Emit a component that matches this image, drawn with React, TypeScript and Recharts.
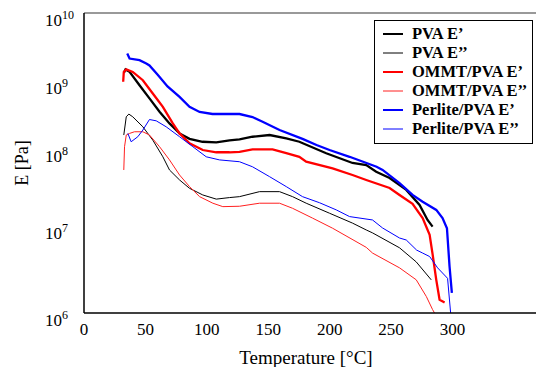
import React from 'react';
import { LineChart, Line, XAxis, YAxis, ReferenceLine } from 'recharts';

// Temperatures (°C) and moduli (Pa) for each series
const pvaE1T = [32.5, 33.8, 37.1, 45.2, 53.3, 61.5, 69.6, 77.8, 85.9, 96.5, 107.7, 118.5, 126.6, 137.2, 151.1, 164.7, 175.3, 197.2, 218.6, 229.8, 237.9, 248.8, 262.4, 273.2, 279.7, 283.8];
const pvaE1 = [1.6e9, 1.77e9, 1.64e9, 1.09e9, 7.26e8, 4.82e8, 3.37e8, 2.48e8, 2.1e8, 1.92e8, 1.88e8, 2.0e8, 2.07e8, 2.24e8, 2.36e8, 2.13e8, 1.92e8, 1.35e8, 1.0e8, 9.4e7, 7.66e7, 6.3e7, 4.38e7, 2.76e7, 1.74e7, 1.42e7];

const pvaE2T = [32.4, 34.4, 36.5, 39.7, 47.9, 56.0, 64.2, 69.6, 77.8, 85.9, 96.7, 107.7, 118.5, 126.6, 142.9, 159.2, 169.8, 180.9, 199.9, 218.6, 229.8, 234.9, 256.9, 270.5, 282.7];
const pvaE2 = [2.36e8, 4.13e8, 4.49e8, 4.13e8, 3.04e8, 2.02e8, 1.21e8, 8.07e7, 5.94e7, 4.6e7, 3.75e7, 3.3e7, 3.46e7, 3.56e7, 4.15e7, 4.15e7, 3.56e7, 2.91e7, 2.14e7, 1.58e7, 1.28e7, 1.17e7, 7.4e6, 4.8e6, 2.77e6];

const ommtE1T = [31.9, 32.4, 34.4, 39.7, 47.9, 56.0, 64.2, 72.3, 77.8, 85.9, 96.7, 107.7, 118.5, 126.6, 137.2, 153.5, 164.7, 175.3, 180.9, 202.4, 218.6, 229.8, 248.8, 256.9, 267.5, 275.7, 281.4, 283.8, 286.8, 289.5, 293.6];
const ommtE1 = [1.21e9, 1.64e9, 1.77e9, 1.64e9, 1.27e9, 8.46e8, 5.61e8, 3.37e8, 2.48e8, 1.83e8, 1.49e8, 1.39e8, 1.39e8, 1.41e8, 1.52e8, 1.52e8, 1.35e8, 1.21e8, 1.04e8, 8.5e7, 6.92e7, 5.94e7, 4.65e7, 3.75e7, 2.85e7, 1.84e7, 1.1e7, 6.1e6, 2.77e6, 1.5e6, 1.38e6];

const ommtE2T = [32.4, 33.0, 34.4, 37.1, 41.1, 47.9, 53.3, 61.5, 69.6, 77.8, 85.9, 94.1, 104.9, 113.0, 126.6, 142.9, 159.2, 169.8, 186.1, 202.4, 229.8, 234.9, 256.9, 270.5, 278.7, 283.8, 285.4];
const ommtE2 = [8.07e7, 1.65e8, 2.36e8, 2.48e8, 2.61e8, 2.61e8, 2.36e8, 1.65e8, 1.1e8, 6.92e7, 4.84e7, 3.56e7, 2.91e7, 2.62e7, 2.65e7, 2.91e7, 2.91e7, 2.49e7, 1.84e7, 1.35e7, 7.5e6, 6.3e6, 4.0e6, 2.77e6, 1.66e6, 1.11e6, 1.0e6];

const perlE1T = [35.2, 37.1, 45.2, 50.7, 53.3, 60.0, 68.0, 77.8, 85.9, 94.1, 104.6, 118.5, 126.6, 137.2, 145.4, 159.2, 177.9, 189.3, 199.9, 216.2, 238.2, 243.1, 256.9, 267.5, 275.7, 286.8, 291.9, 295.5, 297.6, 299.5];
const perlE1 = [2.88e9, 2.47e9, 2.35e9, 2.12e9, 2.0e9, 1.5e9, 1.05e9, 7.6e8, 5.6e8, 4.8e8, 4.5e8, 4.5e8, 4.5e8, 4.1e8, 3.55e8, 2.75e8, 2.1e8, 1.74e8, 1.49e8, 1.21e8, 8.9e7, 8.1e7, 5.4e7, 3.75e7, 3.05e7, 2.37e7, 1.84e7, 1.35e7, 4.2e6, 1.86e6];

const perlE2T = [35.7, 38.4, 43.8, 47.9, 53.3, 58.8, 66.9, 77.8, 88.6, 99.5, 110.3, 126.6, 137.2, 151.1, 164.7, 177.9, 191.8, 205.4, 216.2, 234.9, 243.1, 256.9, 262.4, 270.8, 275.7, 281.4, 287.9, 296.0, 298.5];
const perlE2 = [2.48e8, 1.92e8, 2.24e8, 2.75e8, 3.8e8, 3.65e8, 3.04e8, 2.24e8, 1.65e8, 1.21e8, 1.1e8, 1.04e8, 8.9e7, 6.57e7, 4.84e7, 3.56e7, 2.95e7, 2.37e7, 1.93e7, 1.74e7, 1.36e7, 1.0e7, 9.4e6, 6.9e6, 6.3e6, 5.66e6, 4.0e6, 2.9e6, 1.0e6];

const xTicks = [0, 50, 100, 150, 200, 250, 300];
const yTicks = [1e6, 1e7, 1e8, 1e9, 1e10];

const zip = (t: number[], v: number[]) => t.map((x, i) => ({ x, y: v[i] }));

const series = [
  { name: 'PVA E’', data: zip(pvaE1T, pvaE1), color: '#000000', w: 2.3 },
  { name: 'PVA E’’', data: zip(pvaE2T, pvaE2), color: '#000000', w: 1 },
  { name: 'OMMT/PVA E’', data: zip(ommtE1T, ommtE1), color: '#ff0000', w: 2.3 },
  { name: 'OMMT/PVA E’’', data: zip(ommtE2T, ommtE2), color: '#ff2020', w: 1 },
  { name: 'Perlite/PVA E’', data: zip(perlE1T, perlE1), color: '#0000ff', w: 2.3 },
  { name: 'Perlite/PVA E’’', data: zip(perlE2T, perlE2), color: '#0000ff', w: 1 },
];

const FONT = '"Liberation Serif", "Times New Roman", serif';

const yOffsets: Record<number, number> = { 10: 7, 9: 0, 8: -7, 7: -5, 6: 7 };

const YTick = (props: any) => {
  const { y, payload } = props;
  const exp = Math.round(Math.log10(payload.value));
  const off = yOffsets[exp] ?? 0;
  return (
    <text x={45} y={y + off} dy={6} fontFamily={FONT} fontSize={17} fill="#000">
      <tspan>10</tspan>
      <tspan dy={-7} fontSize={12}>{exp}</tspan>
    </text>
  );
};

const XTick = (props: any) => {
  const { x, y, payload } = props;
  return (
    <text x={x} y={y} dy={14} textAnchor="middle" fontFamily={FONT} fontSize={17} fill="#000">
      {payload.value}
    </text>
  );
};

const LegendBox = () => (
  <div
    style={{
      position: 'absolute',
      left: 374,
      top: 20,
      border: '1.5px solid #000',
      background: '#fff',
      width: 159,
      height: 124,
      boxSizing: 'border-box',
      paddingTop: 3,
    }}
  >
    {series.map((s) => (
      <div key={s.name} style={{ display: 'flex', alignItems: 'center', height: 19 }}>
        <svg width={37} height={19} style={{ flex: 'none' }}>
          <line x1={8} x2={28} y1={10} y2={10} stroke={s.color} strokeWidth={s.w >= 2 ? 2 : 1} />
        </svg>
        <span
          style={{
            fontFamily: FONT,
            fontWeight: 'bold',
            fontSize: 16.5,
            color: '#000',
            whiteSpace: 'nowrap',
            lineHeight: '19px',
          }}
        >
          {s.name}
        </span>
      </div>
    ))}
  </div>
);

export default function App() {
  return (
    <div style={{ position: 'absolute', left: 0, top: 0, width: 536, height: 367 }}>
      <LineChart width={536} height={367} margin={{ top: 13, right: 0, left: 0, bottom: 20 }}>
        <XAxis
          type="number"
          dataKey="x"
          domain={[0, 368]}
          ticks={xTicks}
          tick={<XTick />}
          tickLine={false}
          axisLine={{ stroke: '#000', strokeWidth: 1.5 }}
          height={34}
          allowDataOverflow
          label={{
            value: 'Temperature [°C]',
            position: 'insideBottom',
            offset: -17,
            dx: -4,
            style: { fontFamily: FONT, fontSize: 19, fill: '#000' },
          }}
        />
        <YAxis
          type="number"
          scale="log"
          domain={[1e6, 1e10]}
          ticks={yTicks}
          tick={<YTick />}
          tickLine={false}
          axisLine={{ stroke: '#000', strokeWidth: 1.5 }}
          width={84}
          allowDataOverflow
          label={{
            value: 'E [Pa]',
            angle: -90,
            position: 'insideLeft',
            offset: 22,
            style: { fontFamily: FONT, fontSize: 18, fill: '#000', textAnchor: 'middle' },
          }}
        />
        <ReferenceLine y={1e10} stroke="#777" strokeWidth={1.5} />
        {series.map((s) => (
          <Line
            key={s.name}
            data={s.data}
            dataKey="y"
            name={s.name}
            type="linear"
            stroke={s.color}
            strokeWidth={s.w}
            dot={false}
            isAnimationActive={false}
          />
        ))}
      </LineChart>
      <LegendBox />
    </div>
  );
}
